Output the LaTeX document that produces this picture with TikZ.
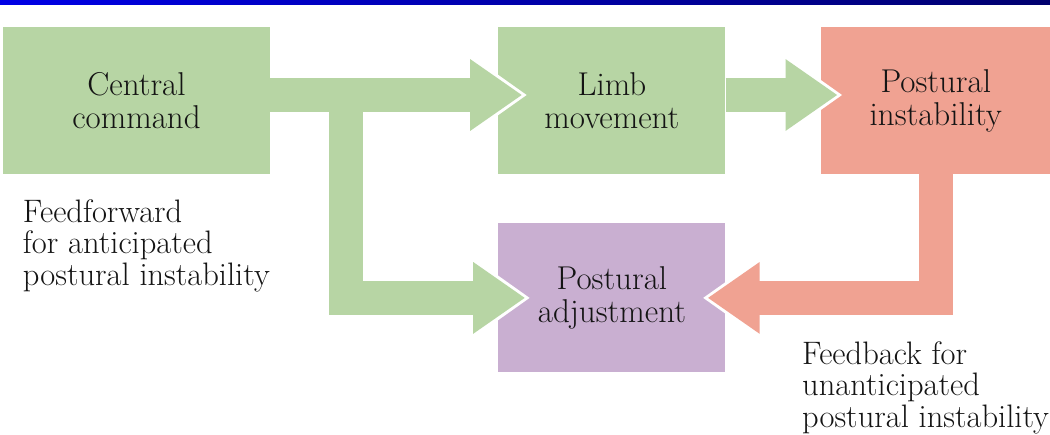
\documentclass[tikz,border=0pt]{standalone}
\usepackage{xcolor}
\usepackage{tikz}
\usetikzlibrary{positioning}
\usetikzlibrary{arrows.meta}
\definecolor{boxgreen}{HTML}{B7D5A4}
\definecolor{boxred}{HTML}{F0A292}
\definecolor{boxpurple}{HTML}{C9AFD1}
\definecolor{barblue}{HTML}{0000E6}
\definecolor{barnavy}{HTML}{00006E}
\tikzset {
  % coloured block with centred text
  block/.style = {rectangle, inner sep=0pt, minimum width=227pt, minimum height=147pt,
    align=center, text=black!92, font=\fontsize{33}{33}\selectfont},
  % motor side, instability, correction
  motor/.style={block, fill=boxgreen},
  unstable/.style={block, fill=boxred},
  correct/.style={block, fill=boxpurple},
  % wide block arrows
  flow/.style={line width=34pt, -{Triangle[width=68pt,length=52pt]}},
  % white rim round the arrow heads
  halo/.style={white, line width=34pt, shorten >=-5pt, -{Triangle[width=84pt,length=63pt]}},
  % free text beside the blocks
  note/.style={align=left, inner sep=0pt, anchor=north west, text=black!92,
    font=\fontsize{32.5}{31.5}\selectfont},
}

\begin{document}
\begin{tikzpicture}[x=1pt, y=-1pt]
        \useasboundingbox (0,0) rectangle (1050,434);
        \shade[left color=barblue, middle color=barblue, right color=barnavy] (0,0) rectangle (1050,4.5);

        \node[motor, minimum width=267pt] (central) at (136.5,100.5) {Central\\command};
        \node[motor, right=228pt of central] (limb) {Limb\\movement};
        \node[unstable, minimum width=230pt, right=95pt of limb] (instab) {Postural\\instability};
        \node[correct, minimum height=149pt, below=49pt of limb] (adjust) {Postural\\adjustment};

        \coordinate (fork) at ([xshift=76pt, yshift=5.5pt]central.east);

        \draw[halo] ([yshift=5.5pt]central.east) -- ([xshift=24pt, yshift=5.5pt]limb.west);
        \draw[halo] (fork) |- ([xshift=27pt]adjust.west);
        \draw[halo] ([yshift=5.5pt]limb.east) -- ([xshift=17pt, yshift=5.5pt]instab.west);
        \draw[halo] (instab.south) |- ([xshift=-18pt]adjust.east);

        \draw[flow, boxgreen] ([yshift=5.5pt]central.east) -- ([xshift=24pt, yshift=5.5pt]limb.west);
        \draw[flow, boxgreen] (fork) |- ([xshift=27pt]adjust.west);
        \draw[flow, boxgreen] ([yshift=5.5pt]limb.east) -- ([xshift=17pt, yshift=5.5pt]instab.west);
        \draw[flow, boxred] (instab.south) |- ([xshift=-18pt]adjust.east);

        \node[note, below right=25pt and 20pt of central.south west] (ffwd) {Feedforward\\for anticipated\\postural instability};
        \node[note] (fback) at (802,341) {Feedback for\\unanticipated\\postural instability};
      \end{tikzpicture}
\end{document}
